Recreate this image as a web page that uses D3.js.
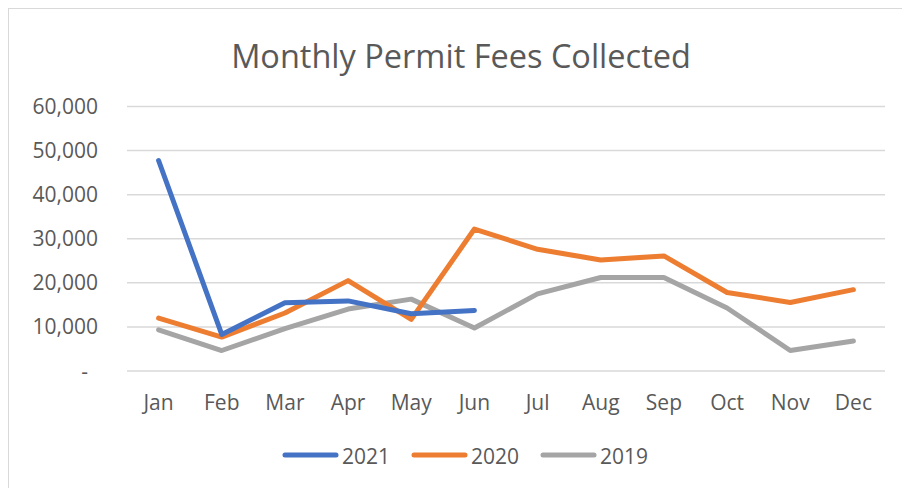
<!DOCTYPE html>
<html>
<head>
<meta charset="utf-8">
<script src="https://cdn.jsdelivr.net/npm/d3@7"></script>
<style>
  body { margin: 0; background: #fff; }
  text { font-family: "Open Sans", "DejaVu Sans", sans-serif; fill: #595959; }
</style>
</head>
<body>
<div id="chart"></div>
<script>
var months = ["Jan","Feb","Mar","Apr","May","Jun","Jul","Aug","Sep","Oct","Nov","Dec"];
var fees2021 = [47750, 8300, 15500, 15900, 13000, 13750];
var fees2020 = [12000, 7700, 13150, 20500, 11700, 32200, 27600, 25200, 26100, 17800, 15550, 18450];
var fees2019 = [9350, 4650, 9600, 14050, 16300, 9750, 17500, 21200, 21200, 14300, 4650, 6800];
var yTicks = [0, 10000, 20000, 30000, 40000, 50000, 60000];

var seriesNames = ["2021","2020","2019"];
var seriesColors = ["#4472C4","#ED7D31","#A5A5A5"];

var width = 902, height = 488;
var margin = {top: 106.5, right: 17, bottom: 117, left: 127};

var svg = d3.select("#chart").append("svg")
    .attr("width", width)
    .attr("height", height);

// chart border
svg.append("rect")
    .attr("x", 8.5).attr("y", 8.5)
    .attr("width", width + 20).attr("height", height + 20)
    .attr("fill", "none")
    .attr("stroke", "#d9d9d9")
    .attr("stroke-width", 1);

var x = d3.scaleBand()
    .domain(months)
    .range([margin.left, width - margin.right]);

var y = d3.scaleLinear()
    .domain([0, 60000])
    .range([height - margin.bottom, margin.top]);

// gridlines
svg.append("g")
    .selectAll("line")
    .data(yTicks)
    .enter()
    .append("line")
    .attr("x1", margin.left)
    .attr("x2", width - margin.right)
    .attr("y1", function(d){ return y(d); })
    .attr("y2", function(d){ return y(d); })
    .attr("stroke", "#d9d9d9")
    .attr("stroke-width", 1.5);

// y labels
var fmt = d3.format(",");
svg.append("g")
    .selectAll("text")
    .data(yTicks)
    .enter()
    .append("text")
    .attr("x", function(d){ return d === 0 ? 88 : 98; })
    .attr("y", function(d){ return y(d); })
    .attr("dy", "0.36em")
    .attr("text-anchor", "end")
    .style("font-size", "21px")
    .text(function(d){ return d === 0 ? "-" : fmt(d); });

// x labels
svg.append("g")
    .selectAll("text")
    .data(months)
    .enter()
    .append("text")
    .attr("x", function(d){ return x(d) + x.bandwidth() / 2; })
    .attr("y", 409.5)
    .attr("text-anchor", "middle")
    .style("font-size", "21px")
    .text(function(d){ return d; });

// lines
var line = d3.line()
    .x(function(d, i){ return x(months[i]) + x.bandwidth() / 2; })
    .y(function(d){ return y(d); });

var allSeries = [fees2021, fees2020, fees2019];
// draw 2019 first so 2021 ends up on top
for (var s = allSeries.length - 1; s >= 0; s--) {
    svg.append("path")
        .datum(allSeries[s])
        .attr("d", line)
        .attr("fill", "none")
        .attr("stroke", seriesColors[s])
        .attr("stroke-width", 5)
        .attr("stroke-linejoin", "round")
        .attr("stroke-linecap", "round");
}

// title
svg.append("text")
    .attr("x", 461)
    .attr("y", 67.5)
    .attr("text-anchor", "middle")
    .style("font-size", "32.5px")
    .text("Monthly Permit Fees Collected");

// legend
var legendX = [283, 412, 541];
var legend = svg.append("g")
    .selectAll("g")
    .data(seriesNames)
    .enter()
    .append("g")
    .attr("transform", function(d, i){ return "translate(" + legendX[i] + ",455)"; });

legend.append("line")
    .attr("x1", 2).attr("x2", 53)
    .attr("stroke", function(d, i){ return seriesColors[i]; })
    .attr("stroke-width", 5)
    .attr("stroke-linecap", "round");

legend.append("text")
    .attr("x", 59)
    .attr("y", 9)
    .style("font-size", "21px")
    .text(function(d){ return d; });
</script>
</body>
</html>
